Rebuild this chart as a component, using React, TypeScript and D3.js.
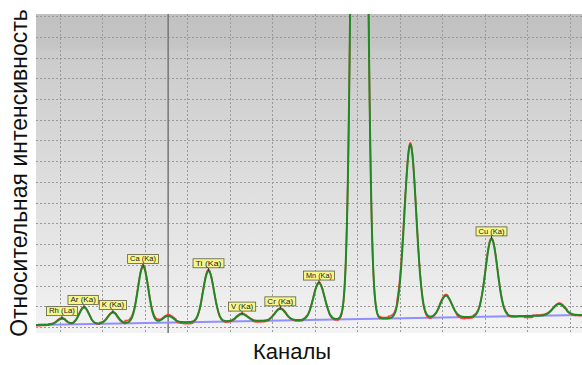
import React from 'react';
import * as d3 from 'd3';

// Canvas and plot frame
const WIDTH = 582;
const HEIGHT = 365;
const PLOT = { left: 36, right: 582, top: 14, bottom: 333 };

// Axis domains (channels, counts)
const channelDomain: [number, number] = [44, 1329];
const countDomain: [number, number] = [-29, 1510];
const channelGrid = [100, 200, 300, 400, 500, 600, 700, 800, 900, 1000, 1100, 1200, 1300];
const countGrid = [0, 100, 200, 300, 400, 500, 600, 700, 800, 900, 1000, 1100, 1200, 1300, 1400, 1500];

// Fitted lines: name, centre channel, net height (counts), sigma (channels)
const lineNames = ['Rh (La)', 'Ar (Ka)', 'K (Ka)', 'Ca (Ka)', 'Ca (Kb)', 'Ti (Ka)', 'V (Ka)', 'Cr (Ka)', 'Mn (Ka)', 'Fe (Ka)', 'Fe (Kb)', 'Ni (Ka)', 'Cu (Ka)', 'Cu (Kb)'];
const lineChannels = [105, 157, 225, 296, 355, 450, 529, 619, 710, 805, 925, 1009, 1116, 1275];
const lineHeights = [28, 80, 53, 272, 32, 246, 34, 56, 177, 6270, 837, 105, 375, 55];
const lineSigmas = [10.8, 11.4, 11.7, 12.2, 12.2, 12.7, 12.8, 13.0, 13.2, 12.8, 13.8, 13.8, 14.0, 14.4];
const lineTagged = [true, true, true, true, false, true, true, true, true, false, false, false, true, false];

// Linear background (counts at the two ends of the channel range)
const backgroundCounts: [number, number] = [10, 58];

// Measured minus fit, one value per 20-channel bin starting at channel 44
const residualStep = 20;
const residualCounts = [
  -4, -3, 3, 4, -3, 4, 3, -3, 4, 3,
  -5, 10, 6, 8, 8, 5, 6, -6, -8, -5,
  6, 3, -5, -4, 4, 3, -6, -5, 3, 4,
  -3, -5, 4, 5, 3, -5, -6, 0, 0, 0,
  -4, 5, 10, 25, 8, 6, -8, -4, 6, -3,
  -8, -6, 5, 5, 4, 6, -4, -3, -7, 3,
  4, 3, 5, -4, -3,
];

// Cursor position (channel)
const cursorChannel = 355;

const FONT = "'Liberation Sans', Arial, sans-serif";

export default function App() {
  const x = d3.scaleLinear().domain(channelDomain).range([PLOT.left, PLOT.right]);
  const y = d3.scaleLinear().domain(countDomain).range([PLOT.bottom, PLOT.top]);

  const bg = d3.scaleLinear().domain(channelDomain).range(backgroundCounts);
  const fit = (ch: number) =>
    bg(ch) +
    d3.sum(lineChannels, (c, i) => lineHeights[i] * Math.exp(-((ch - c) ** 2) / (2 * lineSigmas[i] ** 2)));

  const channels = d3.range(channelDomain[0], channelDomain[1] + 0.5, 1);
  const fitted = channels.map((ch) => ({ ch, v: fit(ch) }));
  const measured = channels.map((ch) => {
    const k = Math.min(residualCounts.length - 1, Math.round((ch - channelDomain[0]) / residualStep));
    return { ch, v: fit(ch) + residualCounts[k] };
  });

  const line = d3
    .line<{ ch: number; v: number }>()
    .x((d) => x(d.ch))
    .y((d) => y(d.v));

  // Peak tags, nudged left when they would overlap their right neighbour
  const tagH = 9;
  const tagPad = 2.5;
  const charW = 3.7;
  const tags = lineNames
    .map((name, i) => ({ name, i }))
    .filter((t) => lineTagged[t.i])
    .map((t) => {
      const px = x(lineChannels[t.i]);
      const py = y(fit(lineChannels[t.i]));
      const w = t.name.length * charW + tagPad * 2;
      return { ...t, px, py, w, cx: px };
    });
  for (let k = tags.length - 2; k >= 0; k--) {
    const a = tags[k];
    const b = tags[k + 1];
    const bTop = b.py - 3 - tagH;
    const aTop = a.py - 3 - tagH;
    const vOverlap = aTop < bTop + tagH && bTop < aTop + tagH;
    const aRight = a.cx + a.w / 2;
    const bLeft = b.cx - b.w / 2;
    if (vOverlap && aRight > bLeft - 1) {
      const newW = Math.max(19, a.w - (aRight - bLeft + 1) / 2);
      a.w = newW;
      a.cx = Math.min(a.cx, bLeft - 1 - newW / 2);
    }
  }

  return (
    <svg
      width={WIDTH}
      height={HEIGHT}
      style={{ position: 'absolute', left: 0, top: 0, background: '#fff' }}
      fontFamily={FONT}
    >
      <defs>
        <linearGradient id="plotBg" x1="0" y1="0" x2="0" y2="1">
          <stop offset="0" stopColor="#c1c1c1" />
          <stop offset="0.1" stopColor="#c5c5c5" />
          <stop offset="0.12" stopColor="#cbcbcb" />
          <stop offset="0.3" stopColor="#d3d3d3" />
          <stop offset="0.55" stopColor="#dfdfdf" />
          <stop offset="0.8" stopColor="#e9e9e9" />
          <stop offset="1" stopColor="#f3f3f3" />
        </linearGradient>
        <clipPath id="plotClip">
          <rect x={PLOT.left} y={PLOT.top} width={PLOT.right - PLOT.left} height={PLOT.bottom - PLOT.top} />
        </clipPath>
      </defs>

      <rect
        x={PLOT.left}
        y={PLOT.top}
        width={PLOT.right - PLOT.left}
        height={PLOT.bottom - PLOT.top}
        fill="url(#plotBg)"
      />

      {/* dotted grid */}
      <g stroke="#9a9a9a" strokeWidth={1} strokeDasharray="2,2">
        {countGrid.map((v) => (
          <line key={`h${v}`} x1={PLOT.left} x2={PLOT.right} y1={Math.round(y(v)) + 0.5} y2={Math.round(y(v)) + 0.5} />
        ))}
        {channelGrid.map((c) => (
          <line key={`v${c}`} x1={Math.round(x(c)) + 0.5} x2={Math.round(x(c)) + 0.5} y1={PLOT.top} y2={PLOT.bottom} />
        ))}
      </g>

      {/* cursor */}
      <line
        x1={x(cursorChannel)}
        x2={x(cursorChannel)}
        y1={PLOT.top}
        y2={PLOT.bottom}
        stroke="#767676"
        strokeWidth={1.5}
      />

      <g clipPath="url(#plotClip)" fill="none">
        <line
          x1={x(channelDomain[0])}
          x2={x(channelDomain[1])}
          y1={y(backgroundCounts[0])}
          y2={y(backgroundCounts[1])}
          stroke="#8f8fff"
          strokeWidth={2}
        />
        <path d={line(measured) ?? ''} stroke="#ff3b3b" strokeWidth={1.6} />
        <path d={line(fitted) ?? ''} stroke="#1f8a24" strokeWidth={2} />
      </g>

      {/* peak tags */}
      {tags.map((t) => {
        const bottom = t.py - 3;
        return (
          <g key={t.name}>
            <line x1={t.px} x2={t.px} y1={bottom} y2={t.py} stroke="#333" strokeWidth={1} />
            <rect
              x={t.cx - t.w / 2}
              y={bottom - tagH}
              width={t.w}
              height={tagH}
              fill="#f6f68c"
              stroke="#5e5e40"
              strokeWidth={0.8}
            />
            <text
              x={t.cx}
              y={bottom - 2.2}
              textAnchor="middle"
              fontSize={6.8}
              fill="#222"
              textLength={t.w - tagPad * 2}
              lengthAdjust="spacingAndGlyphs"
            >
              {t.name}
            </text>
          </g>
        );
      })}

      {/* axis titles */}
      <text x={292} y={359} textAnchor="middle" fontSize={22} fill="#111">
        Каналы
      </text>
      <text
        transform={`translate(27,${(10 + 336) / 2}) rotate(-90)`}
        textAnchor="middle"
        fontSize={23}
        fill="#111"
      >
        Относительная интенсивность
      </text>
    </svg>
  );
}
